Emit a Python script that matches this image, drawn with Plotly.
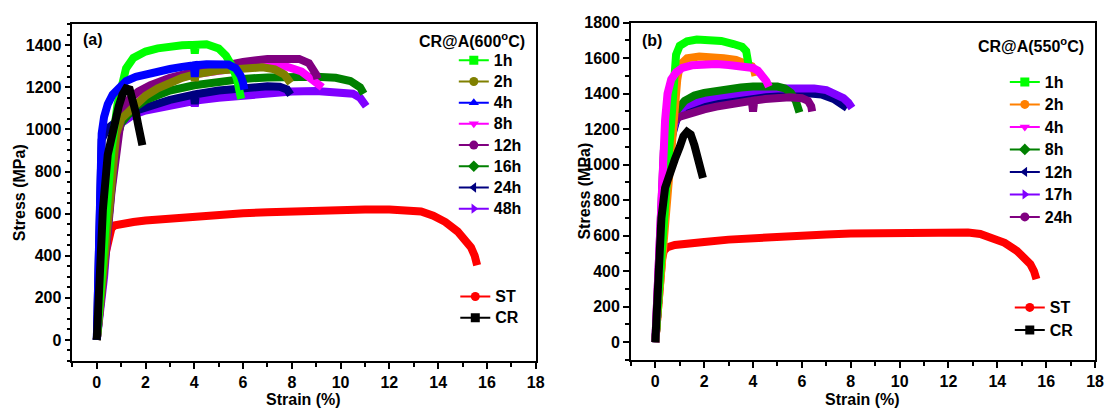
import plotly.graph_objects as go

# ---------------- Panel (a): CR@A(600 C) ----------------
a_st_x = [0, 0.05, 0.15, 0.3, 0.45, 0.6, 0.75, 1.0, 1.5, 2, 3, 4, 5, 6, 7, 8, 9, 10, 11, 12, 12.8, 13.3, 13.8, 14.3, 14.8, 15.1, 15.35, 15.5, 15.6]
a_st_y = [0, 100, 250, 380, 470, 530, 545, 552, 560, 567, 578, 588, 595, 602, 607, 612, 615, 618, 620, 620, 618, 610, 590, 560, 515, 480, 440, 400, 355]

a_cr_x = [0, 0.1, 0.25, 0.45, 0.7, 0.9, 1.05, 1.2, 1.35, 1.5, 1.6, 1.7, 1.8, 1.87]
a_cr_y = [0, 300, 620, 880, 1020, 1110, 1165, 1195, 1190, 1140, 1080, 1020, 960, 925]

a_1h_x = [0, 0.15, 0.35, 0.6, 0.85, 1.0, 1.2, 1.5, 2.0, 2.5, 3.0, 3.5, 3.98, 4.02, 4.06, 4.5, 5.0, 5.3, 5.55, 5.75, 5.88, 5.92]
a_1h_y = [0, 250, 600, 900, 1120, 1200, 1290, 1340, 1370, 1385, 1395, 1400, 1402, 1360, 1402, 1405, 1385, 1350, 1300, 1240, 1180, 1145]

a_2h_x = [0, 0.2, 0.4, 0.6, 0.8, 1.0, 1.5, 2.0, 2.5, 3.0, 3.5, 3.98, 4.02, 4.06, 5.0, 6.0, 6.8, 7.3, 7.7, 7.95]
a_2h_y = [0, 250, 550, 820, 980, 1050, 1110, 1160, 1195, 1225, 1245, 1260, 1230, 1262, 1280, 1292, 1295, 1285, 1260, 1220]

a_4h_x = [0, 0.05, 0.12, 0.2, 0.3, 0.45, 0.65, 0.9, 1.2, 1.6, 2.0, 2.5, 3.0, 3.5, 3.98, 4.02, 4.06, 4.5, 5.0, 5.4, 5.7, 5.9, 6.0, 6.05]
a_4h_y = [0, 400, 800, 980, 1060, 1120, 1165, 1200, 1230, 1250, 1262, 1275, 1287, 1297, 1305, 1250, 1305, 1310, 1312, 1308, 1290, 1255, 1220, 1190]

a_8h_x = [0, 0.2, 0.4, 0.6, 0.8, 1.0, 1.5, 2, 3, 4, 5, 6, 7, 7.8, 8.4, 8.8, 9.1, 9.25]
a_8h_y = [0, 250, 550, 850, 1030, 1100, 1160, 1195, 1235, 1262, 1282, 1295, 1302, 1298, 1275, 1245, 1215, 1200]

a_12h_x = [0, 0.2, 0.4, 0.6, 0.8, 1.0, 1.3, 1.7, 2.2, 3, 4, 5, 6, 7, 7.8, 8.3, 8.7, 8.9, 9.0, 9.05]
a_12h_y = [0, 200, 450, 700, 920, 1060, 1140, 1180, 1210, 1245, 1275, 1300, 1320, 1335, 1340, 1335, 1315, 1285, 1260, 1240]

a_16h_x = [0, 0.2, 0.5, 0.8, 1.0, 1.5, 2, 3, 4, 5, 6, 7, 8, 9, 9.8, 10.4, 10.8, 10.95]
a_16h_y = [0, 250, 600, 950, 1030, 1100, 1140, 1185, 1210, 1228, 1240, 1247, 1250, 1250, 1245, 1230, 1200, 1170]

a_24h_x = [0, 0.05, 0.1, 0.2, 0.4, 0.7, 1.0, 1.5, 2, 3, 3.98, 4.02, 4.06, 5, 6, 7, 7.5, 7.8, 7.95]
a_24h_y = [0, 400, 800, 950, 1000, 1030, 1055, 1085, 1105, 1140, 1165, 1120, 1167, 1185, 1198, 1205, 1203, 1190, 1165]

a_48h_x = [0, 0.3, 0.6, 0.8, 1.0, 1.5, 2, 3, 3.98, 4.02, 4.06, 5, 6, 7, 8, 9, 10, 10.5, 10.8, 11.0, 11.05]
a_48h_y = [0, 300, 750, 950, 1030, 1070, 1090, 1115, 1135, 1110, 1137, 1150, 1163, 1172, 1180, 1183, 1180, 1170, 1150, 1125, 1110]

# ---------------- Panel (b): CR@A(550 C) ----------------
b_st_x = [0, 0.05, 0.12, 0.2, 0.28, 0.35, 0.5, 0.8, 1.2, 2, 3, 4, 5, 6, 7, 8, 9, 10, 11, 12, 12.8, 13.3, 13.8, 14.3, 14.8, 15.1, 15.35, 15.5, 15.6]
b_st_y = [0, 100, 250, 380, 470, 515, 535, 548, 556, 565, 578, 588, 595, 602, 607, 612, 615, 618, 620, 620, 618, 610, 590, 560, 515, 480, 440, 400, 355]

b_cr_x = [0, 0.08, 0.15, 0.25, 0.4, 0.6, 0.8, 1.0, 1.15, 1.3, 1.45, 1.6, 1.75, 1.9, 1.95]
b_cr_y = [0, 250, 500, 700, 870, 960, 1030, 1100, 1160, 1185, 1170, 1110, 1040, 960, 925]

b_1h_x = [0, 0.2, 0.4, 0.6, 0.75, 0.85, 1.0, 1.3, 1.7, 2.2, 2.7, 3.2, 3.55, 3.72, 3.8, 3.82]
b_1h_y = [0, 400, 850, 1250, 1500, 1620, 1670, 1695, 1705, 1705, 1697, 1680, 1665, 1640, 1600, 1560]

b_2h_x = [0, 0.2, 0.4, 0.6, 0.8, 0.9, 1.0, 1.3, 1.8, 2.3, 2.8, 3.3, 3.7, 3.95, 4.05, 4.1]
b_2h_y = [0, 350, 700, 1050, 1350, 1480, 1560, 1600, 1610, 1608, 1600, 1590, 1575, 1555, 1530, 1500]

b_4h_x = [0, 0.1, 0.2, 0.3, 0.4, 0.5, 0.65, 0.85, 1.1, 1.5, 2.0, 2.5, 3.0, 3.5, 4.0, 4.2, 4.4, 4.55, 4.65]
b_4h_y = [0, 350, 700, 1000, 1250, 1400, 1480, 1520, 1545, 1560, 1567, 1567, 1562, 1555, 1545, 1530, 1500, 1470, 1440]

b_8h_x = [0, 0.15, 0.3, 0.45, 0.6, 0.75, 0.9, 1.2, 1.6, 2.0, 2.5, 3.0, 3.5, 4.0, 4.5, 5.0, 5.3, 5.55, 5.75, 5.85, 5.9]
b_8h_y = [0, 300, 650, 950, 1150, 1260, 1310, 1360, 1390, 1405, 1418, 1428, 1435, 1440, 1442, 1440, 1430, 1405, 1360, 1320, 1295]

b_12h_x = [0, 0.15, 0.3, 0.5, 0.7, 0.9, 1.2, 1.6, 2, 3, 4, 5, 6, 6.8, 7.3, 7.6, 7.85]
b_12h_y = [0, 300, 620, 950, 1170, 1270, 1310, 1335, 1350, 1375, 1393, 1402, 1405, 1395, 1370, 1345, 1320]

b_17h_x = [0, 0.15, 0.3, 0.5, 0.7, 0.9, 1.2, 1.6, 2.0, 2.5, 3.0, 3.5, 4.0, 4.5, 5.0, 5.5, 6.0, 6.5, 7.0, 7.4, 7.7, 7.9, 8.05]
b_17h_y = [0, 300, 620, 950, 1180, 1290, 1330, 1355, 1370, 1385, 1397, 1408, 1417, 1425, 1430, 1433, 1433, 1430, 1420, 1400, 1375, 1350, 1320]

b_24h_x = [0, 0.08, 0.15, 0.25, 0.35, 0.5, 0.7, 1.0, 1.5, 2.0, 2.5, 3.0, 3.5, 3.95, 4.0, 4.05, 4.5, 5.0, 5.5, 6.0, 6.25, 6.38, 6.42]
b_24h_y = [0, 300, 600, 880, 1080, 1180, 1235, 1270, 1295, 1312, 1327, 1340, 1352, 1360, 1300, 1362, 1370, 1377, 1380, 1375, 1360, 1330, 1300]

# ---------------- styling ----------------
FONT = "Liberation Sans, Arial, sans-serif"
C = {"lime": "#00FF00", "olive": "#808000", "blue": "#0000FF", "mag": "#FF00FF",
     "purple": "#800080", "green": "#008000", "navy": "#000080", "violet": "#8000FF",
     "orange": "#FF8000", "red": "#FF0000", "black": "#000000"}

# (label, x, y, color, symbol) in legend order
a_series = [("1h", a_1h_x, a_1h_y, C["lime"], "square"),
            ("2h", a_2h_x, a_2h_y, C["olive"], "circle"),
            ("4h", a_4h_x, a_4h_y, C["blue"], "triangle-up"),
            ("8h", a_8h_x, a_8h_y, C["mag"], "triangle-down"),
            ("12h", a_12h_x, a_12h_y, C["purple"], "circle"),
            ("16h", a_16h_x, a_16h_y, C["green"], "diamond"),
            ("24h", a_24h_x, a_24h_y, C["navy"], "triangle-left"),
            ("48h", a_48h_x, a_48h_y, C["violet"], "triangle-right")]
a_draw_order = ["48h", "24h", "16h", "8h", "12h", "2h", "1h", "4h"]

b_series = [("1h", b_1h_x, b_1h_y, C["lime"], "square"),
            ("2h", b_2h_x, b_2h_y, C["orange"], "circle"),
            ("4h", b_4h_x, b_4h_y, C["mag"], "triangle-down"),
            ("8h", b_8h_x, b_8h_y, C["green"], "diamond"),
            ("12h", b_12h_x, b_12h_y, C["navy"], "triangle-left"),
            ("17h", b_17h_x, b_17h_y, C["violet"], "triangle-right"),
            ("24h", b_24h_x, b_24h_y, C["purple"], "circle")]
b_draw_order = ["12h", "17h", "8h", "24h", "2h", "1h", "4h"]

W, H = 1115, 408
LW = 8

fig = go.Figure()


def curve(x, y, color, xa, ya):
    fig.add_trace(go.Scatter(x=x, y=y, mode="lines", xaxis=xa, yaxis=ya,
                             line=dict(color=color, width=LW), showlegend=False,
                             hoverinfo="skip"))


def legend_entry(name, color, symbol, legend, xa, ya):
    fig.add_trace(go.Scatter(x=[None], y=[None], mode="lines+markers",
                             name="<span style='font-size:16px'>%s</span>" % name,
                             xaxis=xa, yaxis=ya, legend=legend,
                             line=dict(color=color, width=2),
                             marker=dict(color=color, symbol=symbol, size=9)))


# panel (a)
curve(a_st_x, a_st_y, C["red"], "x", "y")
lookup_a = {s[0]: s for s in a_series}
for k in a_draw_order:
    s = lookup_a[k]
    curve(s[1], s[2], s[3], "x", "y")
curve(a_cr_x, a_cr_y, C["black"], "x", "y")
for s in a_series:
    legend_entry(s[0], s[3], s[4], "legend", "x", "y")
legend_entry("ST", C["red"], "circle", "legend2", "x", "y")
legend_entry("CR", C["black"], "square", "legend2", "x", "y")

# panel (b)
curve(b_st_x, b_st_y, C["red"], "x2", "y2")
lookup_b = {s[0]: s for s in b_series}
for k in b_draw_order:
    s = lookup_b[k]
    curve(s[1], s[2], s[3], "x2", "y2")
curve(b_cr_x, b_cr_y, C["black"], "x2", "y2")
for s in b_series:
    legend_entry(s[0], s[3], s[4], "legend3", "x2", "y2")
legend_entry("ST", C["red"], "circle", "legend4", "x2", "y2")
legend_entry("CR", C["black"], "square", "legend4", "x2", "y2")


def px_x(p):
    return p / W


def px_y(p):
    return 1 - p / H


tickfont = dict(family=FONT, size=16, color="black", weight="bold")
common = dict(showline=True, linecolor="black", linewidth=1.6, mirror=True,
              ticks="outside", ticklen=6, tickwidth=1.5, tickcolor="black",
              showgrid=False, zeroline=False, tickfont=tickfont)
minor_x = dict(dtick=1, ticks="outside", ticklen=4, tickwidth=1.5, tickcolor="black")

leg_a_font = dict(family=FONT, size=14, color="black", weight="bold")
leg_b_font = dict(family=FONT, size=15, color="black", weight="bold")

fig.update_layout(
    width=W, height=H, margin=dict(l=0, r=0, t=0, b=0, pad=0),
    paper_bgcolor="white", plot_bgcolor="white",
    font=dict(family=FONT, color="black"),
    xaxis=dict(domain=[px_x(73), px_x(540)], range=[-1, 18], dtick=2, tick0=0,
               minor=minor_x, anchor="y", **common),
    yaxis=dict(domain=[px_y(360), px_y(16.5)], range=[-100, 1500], dtick=200, tick0=0,
               minor=dict(dtick=50, ticks="outside", ticklen=4, tickwidth=1.5, tickcolor="black"),
               anchor="x", **common),
    xaxis2=dict(domain=[px_x(636), px_x(1104)], range=[-1, 18], dtick=2, tick0=0,
                minor=minor_x, anchor="y2", **common),
    yaxis2=dict(domain=[px_y(359), px_y(15)], range=[-100, 1800], dtick=200, tick0=0,
                minor=dict(dtick=100, ticks="outside", ticklen=4, tickwidth=1.5, tickcolor="black"),
                anchor="x2", **common),
    legend=dict(x=px_x(457.5), y=px_y(37.4), xanchor="left", yanchor="top",
                bgcolor="rgba(0,0,0,0)", borderwidth=0, font=leg_a_font),
    legend2=dict(x=px_x(459), y=px_y(278.4), xanchor="left", yanchor="top",
                 bgcolor="rgba(0,0,0,0)", borderwidth=0, font=leg_a_font),
    legend3=dict(x=px_x(1013), y=px_y(58.8), xanchor="left", yanchor="top",
                 bgcolor="rgba(0,0,0,0)", borderwidth=0, font=leg_b_font),
    legend4=dict(x=px_x(1018), y=px_y(288.8), xanchor="left", yanchor="top",
                 bgcolor="rgba(0,0,0,0)", borderwidth=0, font=leg_b_font),
)

ann_font = dict(family=FONT, size=16, color="black", weight="bold")
anns = [
    dict(text="(a)", x=px_x(82), y=px_y(32), xanchor="left", yanchor="middle"),
    dict(text="(b)", x=px_x(645), y=px_y(33), xanchor="left", yanchor="middle"),
    dict(text="CR@A(600<sup>o</sup>C)", x=px_x(531), y=px_y(33), xanchor="right", yanchor="middle"),
    dict(text="CR@A(550<sup>o</sup>C)", x=px_x(1095), y=px_y(38), xanchor="right", yanchor="middle"),
    dict(text="Strain (%)", x=px_x(306), y=px_y(399), xanchor="center", yanchor="middle"),
    dict(text="Strain (%)", x=px_x(870), y=px_y(399), xanchor="center", yanchor="middle"),
    dict(text="Stress (MPa)", x=px_x(19), y=px_y(188), xanchor="center", yanchor="middle", textangle=-90),
    dict(text="Stress (MPa)", x=px_x(589), y=px_y(187), xanchor="center", yanchor="middle", textangle=-90),
]
for a in anns:
    fig.add_annotation(xref="paper", yref="paper", showarrow=False, font=ann_font, **a)

fig.write_html("out.html", config={"displayModeBar": False},
               post_script="document.body.style.margin='0';")
